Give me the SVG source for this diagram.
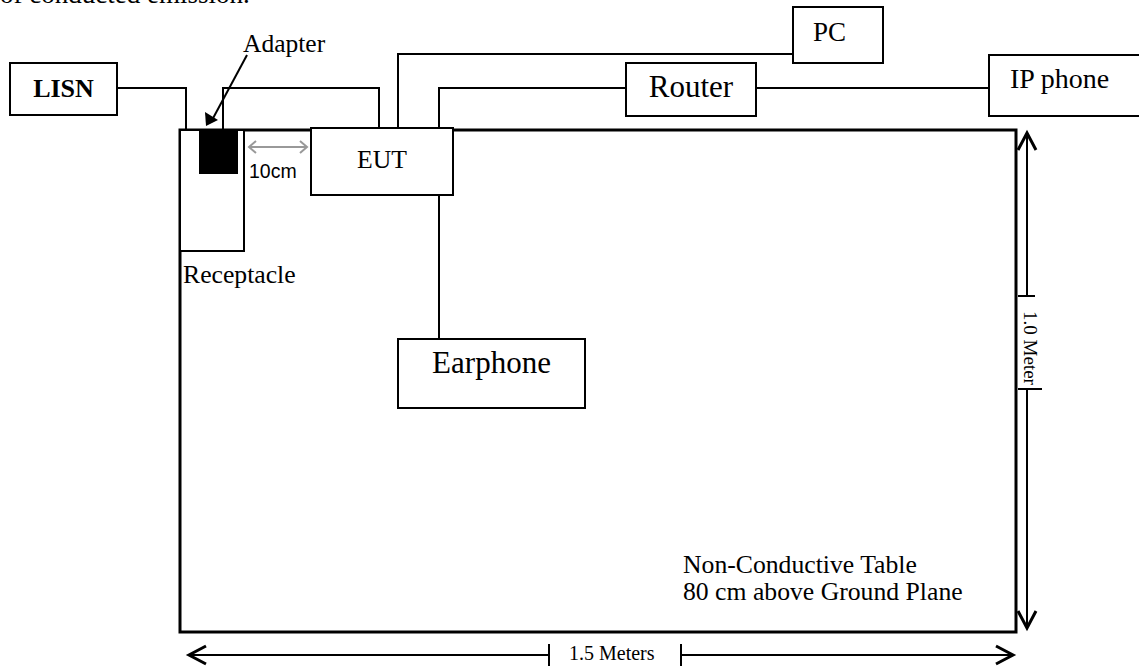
<svg xmlns="http://www.w3.org/2000/svg" width="1139" height="669" viewBox="0 0 1139 669">
<style>
  .box { fill: #fff; stroke: #000; stroke-width: 2; }
  .wire { fill: none; stroke: #000; stroke-width: 2; }
  .dim { fill: none; stroke: #000; stroke-width: 2; }
  .head { fill: none; stroke: #000; stroke-width: 3; stroke-linejoin: miter; }
  .t { font-family: "Liberation Serif", "Times New Roman", serif; fill: #000; }
  .s { font-family: "Liberation Sans", Arial, sans-serif; fill: #000; }
</style>
<rect width="1139" height="669" fill="#fff"/>
<text class="t" x="0" y="3" font-size="27">of conducted emission.</text>

<g id="table">
  <rect x="180" y="130" width="836" height="502" fill="#fff" stroke="#000" stroke-width="3"/>
  <text class="t" x="683" y="573" font-size="25.7">Non-Conductive Table</text>
  <text class="t" x="683" y="600" font-size="25.7">80 cm above Ground Plane</text>
</g>

<g id="connectors">
  <polyline class="wire" points="117,88 186,88 186,130"/>
  <polyline class="wire" points="223,130 223,88 379,88 379,128"/>
  <polyline class="wire" points="398,130 398,54 793,54"/>
  <polyline class="wire" points="439,128 439,88 626,88"/>
  <line class="wire" x1="756" y1="88" x2="989" y2="88"/>
  <line class="wire" x1="439" y1="195" x2="439" y2="339"/>
</g>

<g id="receptacle">
  <rect class="box" x="180" y="130" width="64" height="121"/>
  <text class="t" x="183" y="283" font-size="25.7">Receptacle</text>
</g>

<g id="adapter">
  <rect x="199" y="130" width="39" height="44" fill="#000"/>
  <line x1="247" y1="55" x2="211" y2="122" stroke="#000" stroke-width="2"/>
  <polygon points="206,126 205,112 218,120" fill="#000"/>
  <text class="t" x="243" y="52" font-size="25.5">Adapter</text>
</g>

<g id="spacing">
  <line x1="249" y1="147" x2="307" y2="147" stroke="#999" stroke-width="2"/>
  <polyline points="256,141 249,147 256,153" fill="none" stroke="#999" stroke-width="2"/>
  <polyline points="300,141 307,147 300,153" fill="none" stroke="#999" stroke-width="2"/>
  <text class="s" x="249" y="178" font-size="19.5">10cm</text>
</g>

<g id="lisn">
  <rect class="box" x="10" y="63" width="107" height="52"/>
  <text class="t" x="63.5" y="97" font-size="26" font-weight="bold" text-anchor="middle">LISN</text>
</g>

<g id="eut">
  <rect class="box" x="311" y="128" width="142" height="67"/>
  <text class="t" x="382" y="168" font-size="25.7" text-anchor="middle">EUT</text>
</g>

<g id="pc">
  <rect class="box" x="793" y="7" width="90" height="56"/>
  <text class="t" x="813" y="41" font-size="27">PC</text>
</g>

<g id="router">
  <rect class="box" x="626" y="63" width="130" height="53"/>
  <text class="t" x="691" y="97" font-size="31" text-anchor="middle">Router</text>
</g>

<g id="ipphone">
  <rect class="box" x="989" y="55" width="160" height="61"/>
  <text class="t" x="1010" y="88" font-size="28">IP phone</text>
</g>

<g id="earphone">
  <rect class="box" x="398" y="339" width="187" height="69"/>
  <text class="t" x="491.5" y="373" font-size="31" text-anchor="middle">Earphone</text>
</g>

<g id="dim-height">
  <line class="dim" x1="1027" y1="132" x2="1027" y2="296"/>
  <line class="dim" x1="1027" y1="389" x2="1027" y2="628"/>
  <line class="dim" x1="1018" y1="296" x2="1035" y2="296"/>
  <line class="dim" x1="1018" y1="389" x2="1042" y2="389"/>
  <polyline class="head" points="1018,150 1027,133 1036,150"/>
  <polyline class="head" points="1018,611 1027,628 1036,611"/>
  <text class="t" x="0" y="0" font-size="19" text-anchor="middle" transform="translate(1024,348) rotate(90)">1.0 Meter</text>
</g>

<g id="dim-width">
  <line class="dim" x1="188" y1="655" x2="549" y2="655"/>
  <line class="dim" x1="681" y1="655" x2="1014" y2="655"/>
  <line class="dim" x1="549" y1="644" x2="549" y2="666"/>
  <line class="dim" x1="681" y1="644" x2="681" y2="666"/>
  <polyline class="head" points="206,646 189,655 206,664"/>
  <polyline class="head" points="996,646 1013,655 996,664"/>
  <text class="t" x="569" y="660" font-size="20">1.5 Meters</text>
</g>
</svg>
